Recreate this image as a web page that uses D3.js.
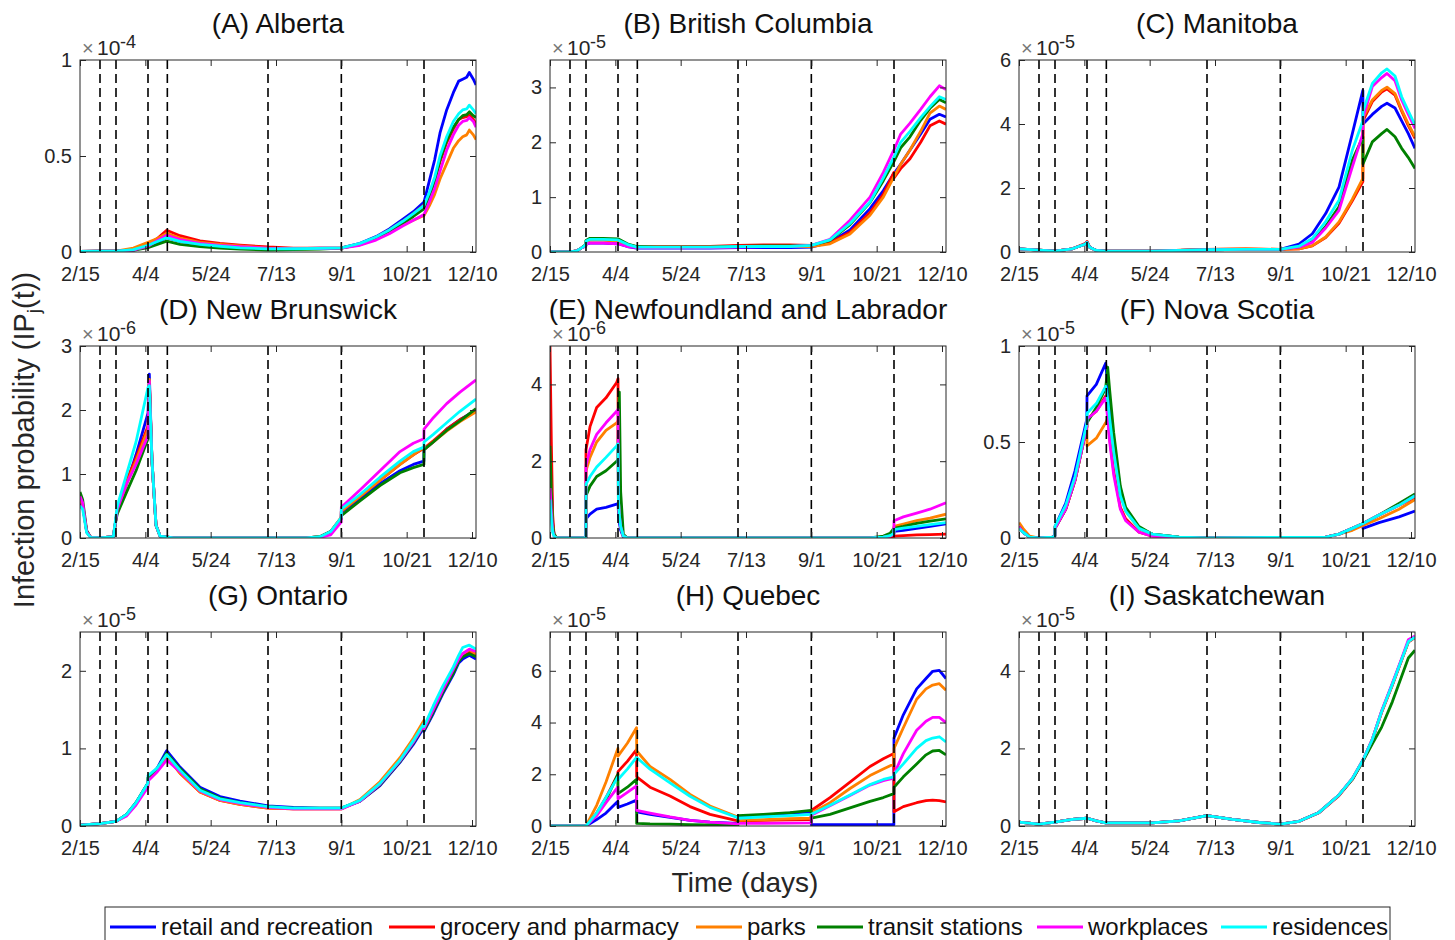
<!DOCTYPE html>
<html><head><meta charset="utf-8">
<script src="https://cdn.jsdelivr.net/npm/d3@7"></script>
<style>
body{margin:0;background:#fff}
svg{display:block;font-family:"Liberation Sans",Arial,Helvetica,sans-serif}
</style>
</head><body>
<svg id="chart" width="1455" height="940"></svg>
<script>
// ---------------- DATA ----------------
const seriesNames = ["retail and recreation","grocery and pharmacy","parks","transit stations","workplaces","residences"];
const seriesColors = ["#0000ff","#ff0000","#ff8000","#008000","#ff00ff","#00ffff"];
const xTickDays = [0,49,98,147,196,245,294];
const xTickLabels = ["2/15","4/4","5/24","7/13","9/1","10/21","12/10"];
const policyDays = [15,27,51,65.5,141,196,258];

const panelTitles = ["(A) Alberta","(B) British Columbia","(C) Manitoba","(D) New Brunswick","(E) Newfoundland and Labrador","(F) Nova Scotia","(G) Ontario","(H) Quebec","(I) Saskatchewan"];
const panelExponents = [-4,-5,-5,-6,-6,-5,-5,-5,-5];
const panelYMax = [1,3.5,6,3,5,1,2.5,7.5,5];
const panelYTicks = [[0,0.5,1],[0,1,2,3],[0,2,4,6],[0,1,2,3],[0,2,4],[0,0.5,1],[0,1,2],[0,2,4,6],[0,2,4]];

// (A) Alberta  x1e-4
const abDays = [0,15,27,40,51,58,65,75,90,105,120,141,160,180,196,210,222,232,242,250,258,262,266,270,275,280,284,287,290,292,295,297];
const abSeries = [
 [0.003,0.004,0.004,0.01,0.03,0.05,0.075,0.055,0.04,0.03,0.025,0.018,0.018,0.02,0.022,0.045,0.08,0.12,0.17,0.21,0.26,0.37,0.48,0.62,0.74,0.83,0.89,0.90,0.91,0.935,0.90,0.87],
 [0.003,0.004,0.004,0.012,0.04,0.07,0.113,0.085,0.058,0.045,0.036,0.026,0.02,0.02,0.022,0.043,0.077,0.115,0.16,0.2,0.245,0.3,0.37,0.47,0.57,0.64,0.69,0.70,0.705,0.715,0.69,0.67],
 [0.003,0.004,0.004,0.02,0.05,0.07,0.097,0.072,0.05,0.04,0.032,0.02,0.018,0.019,0.02,0.038,0.068,0.1,0.14,0.165,0.19,0.24,0.3,0.38,0.46,0.54,0.58,0.60,0.61,0.635,0.61,0.585],
 [0.003,0.004,0.004,0.008,0.023,0.04,0.057,0.04,0.028,0.02,0.015,0.01,0.012,0.015,0.02,0.04,0.072,0.108,0.15,0.185,0.225,0.29,0.37,0.48,0.58,0.65,0.69,0.71,0.715,0.73,0.71,0.70],
 [0.003,0.004,0.004,0.01,0.03,0.06,0.087,0.065,0.045,0.035,0.028,0.02,0.018,0.018,0.02,0.035,0.062,0.095,0.135,0.165,0.195,0.26,0.33,0.42,0.53,0.61,0.66,0.68,0.685,0.70,0.68,0.65],
 [0.003,0.004,0.004,0.012,0.035,0.055,0.075,0.055,0.04,0.03,0.022,0.016,0.017,0.019,0.022,0.045,0.078,0.115,0.16,0.2,0.243,0.31,0.39,0.5,0.6,0.68,0.72,0.74,0.745,0.765,0.74,0.72]
];

// (B) British Columbia  x1e-5
const bcDays = [0,15,20,24,26.9,27,30,40,51,58,65,80,100,120,141,160,180,196,210,225,240,250,257.9,258,263,270,278,285,292,297];
const bcSeries = [
 [0,0,0.02,0.08,0.12,0.15,0.16,0.16,0.15,0.1,0.07,0.07,0.07,0.07,0.08,0.08,0.08,0.09,0.18,0.4,0.79,1.12,1.43,1.43,1.6,1.86,2.15,2.42,2.51,2.46],
 [0,0,0.02,0.08,0.12,0.2,0.22,0.22,0.2,0.13,0.1,0.1,0.1,0.1,0.12,0.13,0.13,0.12,0.17,0.36,0.72,1.05,1.45,1.35,1.52,1.7,2.0,2.3,2.39,2.33],
 [0,0,0.02,0.08,0.12,0.2,0.22,0.22,0.2,0.13,0.09,0.09,0.09,0.09,0.1,0.1,0.1,0.1,0.15,0.33,0.67,1.0,1.37,1.37,1.6,1.86,2.2,2.53,2.66,2.6],
 [0,0,0.02,0.08,0.14,0.21,0.25,0.25,0.24,0.15,0.1,0.09,0.09,0.09,0.1,0.11,0.11,0.12,0.21,0.5,0.9,1.3,1.65,1.65,1.9,2.1,2.4,2.62,2.78,2.72],
 [0,0,0.02,0.08,0.1,0.15,0.16,0.16,0.15,0.1,0.08,0.08,0.08,0.08,0.09,0.1,0.1,0.12,0.23,0.58,1.0,1.45,1.86,1.86,2.15,2.35,2.6,2.83,3.03,2.96],
 [0,0,0.02,0.08,0.13,0.2,0.23,0.23,0.22,0.14,0.09,0.09,0.09,0.09,0.1,0.1,0.1,0.12,0.22,0.52,0.91,1.35,1.73,1.73,2.0,2.2,2.45,2.65,2.83,2.78]
];

// (C) Manitoba  x1e-5
const mbDays = [0,15,27,40,50,51,53,58,65,100,141,170,196,210,220,230,240,250,257.9,258,265,272,276,282,287,292,297];
const mbSeries = [
 [0.1,0.06,0.03,0.1,0.25,0.3,0.15,0.05,0.03,0.03,0.07,0.08,0.08,0.25,0.57,1.2,2.03,3.7,5.05,4.0,4.3,4.55,4.65,4.5,4.1,3.7,3.24],
 [0.1,0.06,0.03,0.1,0.27,0.33,0.15,0.05,0.03,0.03,0.08,0.1,0.08,0.1,0.19,0.45,0.9,1.6,2.2,4.1,4.7,5.0,5.1,4.9,4.4,3.95,3.55],
 [0.1,0.06,0.03,0.1,0.25,0.3,0.15,0.05,0.03,0.03,0.08,0.1,0.08,0.1,0.2,0.47,0.94,1.65,2.3,4.2,4.75,5.05,5.15,4.95,4.44,4.0,3.6],
 [0.1,0.06,0.03,0.1,0.25,0.3,0.15,0.05,0.03,0.03,0.07,0.08,0.08,0.16,0.33,0.8,1.41,2.87,3.6,2.75,3.44,3.7,3.83,3.6,3.24,2.95,2.61],
 [0.1,0.06,0.03,0.1,0.25,0.3,0.15,0.05,0.03,0.03,0.07,0.08,0.08,0.15,0.3,0.75,1.3,2.66,3.7,4.2,5.17,5.45,5.58,5.35,4.75,4.3,3.86],
 [0.1,0.06,0.03,0.1,0.25,0.3,0.15,0.05,0.03,0.03,0.07,0.08,0.08,0.18,0.42,0.95,1.62,3.18,4.1,4.4,5.27,5.6,5.72,5.5,4.85,4.4,3.97]
];

// (D) New Brunswick  x1e-6
const nbDays = [0,2,5,8,15,25,27,28,35,42,51,52,54,57,60,70,141,170,180,188,195.9,196,210,225,240,250,257.9,258,265,275,285,297];
const nbSeries = [
 [0.55,0.5,0.1,0.01,0,0.02,0.3,0.42,0.85,1.3,1.95,2.56,1.2,0.2,0.03,0,0,0,0.02,0.1,0.3,0.4,0.62,0.85,1.05,1.15,1.2,1.38,1.5,1.7,1.85,2.0],
 [0.6,0.52,0.1,0.01,0,0.02,0.3,0.45,0.9,1.25,1.75,2.45,1.2,0.2,0.03,0,0,0,0.02,0.1,0.32,0.42,0.65,0.9,1.15,1.3,1.4,1.4,1.52,1.7,1.85,1.98],
 [0.6,0.52,0.1,0.01,0,0.02,0.3,0.42,0.85,1.2,1.7,2.48,1.2,0.2,0.03,0,0,0,0.02,0.1,0.32,0.42,0.65,0.9,1.15,1.3,1.42,1.38,1.5,1.67,1.82,1.97],
 [0.72,0.6,0.12,0.01,0,0.02,0.28,0.38,0.72,1.05,1.55,2.4,1.2,0.2,0.03,0,0,0,0.02,0.1,0.3,0.35,0.58,0.82,1.02,1.1,1.15,1.38,1.5,1.68,1.83,2.02],
 [0.65,0.55,0.1,0.01,0,0.02,0.3,0.45,0.85,1.15,1.6,2.45,1.2,0.2,0.03,0,0,0,0.01,0.05,0.25,0.48,0.75,1.05,1.35,1.48,1.55,1.7,1.88,2.1,2.28,2.47],
 [0.5,0.45,0.08,0.01,0,0.02,0.35,0.5,1.0,1.5,2.35,2.38,1.2,0.2,0.03,0,0,0,0.02,0.1,0.32,0.45,0.68,0.95,1.2,1.35,1.42,1.5,1.62,1.8,1.98,2.17]
];

// (E) Newfoundland and Labrador  x1e-6
const nlDays = [0,1,2,3,5,26.9,27,30,35,42,50,51,51.3,52,53,55,58,240,250,255,257.9,258,265,275,285,297];
const nlSeries = [
 [2.8,1.4,0.4,0.1,0,0,0.5,0.62,0.75,0.8,0.88,0.9,0.7,0.4,0.2,0.03,0,0,0.02,0.05,0.1,0.17,0.2,0.25,0.3,0.37],
 [5.0,2.5,0.6,0.1,0,0,2.3,2.9,3.4,3.65,4.05,4.15,1.0,0.6,0.3,0.05,0,0,0,0.01,0.02,0.05,0.06,0.08,0.09,0.1],
 [2.0,1.0,0.3,0.1,0,0,1.75,2.1,2.5,2.8,3.0,3.05,1.0,0.6,0.3,0.05,0,0,0.03,0.07,0.12,0.3,0.36,0.45,0.52,0.62],
 [2.4,1.2,0.35,0.1,0,0,1.1,1.35,1.6,1.75,2.0,2.05,3.0,3.8,1.2,0.1,0,0,0.05,0.12,0.25,0.25,0.3,0.38,0.44,0.5],
 [1.3,0.7,0.2,0.05,0,0,1.9,2.3,2.7,3.0,3.3,3.35,1.0,0.6,0.3,0.05,0,0,0.02,0.05,0.1,0.45,0.55,0.65,0.75,0.92],
 [1.0,0.5,0.15,0.05,0,0,1.4,1.6,1.85,2.1,2.4,2.45,1.0,0.6,0.3,0.05,0,0,0.02,0.06,0.12,0.22,0.26,0.3,0.35,0.4]
];

// (F) Nova Scotia  x1e-5
const nsDays = [0,3,8,15,25,26.9,27,35,42,50.9,51,58,65,66.5,68,71,76,80,90,100,120,141,230,240,250,257.9,258,270,285,297];
const nsSeries = [
 [0.06,0.03,0.005,0,0.005,0.01,0.06,0.18,0.35,0.62,0.74,0.8,0.91,0.8,0.7,0.5,0.25,0.15,0.05,0.02,0.005,0,0.005,0.02,0.05,0.07,0.05,0.08,0.11,0.14],
 [0.06,0.03,0.005,0,0.005,0.01,0.05,0.15,0.3,0.58,0.62,0.66,0.74,0.64,0.52,0.35,0.16,0.1,0.03,0.01,0.003,0,0.005,0.02,0.05,0.075,0.075,0.12,0.17,0.21],
 [0.08,0.05,0.01,0,0.005,0.01,0.06,0.15,0.3,0.58,0.48,0.52,0.6,0.62,0.6,0.48,0.24,0.14,0.05,0.02,0.005,0,0.005,0.02,0.04,0.065,0.065,0.1,0.15,0.2],
 [0.06,0.03,0.005,0,0.005,0.01,0.05,0.15,0.3,0.58,0.6,0.68,0.78,0.89,0.77,0.55,0.27,0.16,0.06,0.02,0.005,0,0.005,0.02,0.05,0.075,0.075,0.12,0.18,0.23],
 [0.06,0.03,0.005,0,0.005,0.01,0.05,0.15,0.3,0.58,0.62,0.66,0.73,0.62,0.5,0.33,0.15,0.09,0.03,0.01,0.003,0,0.005,0.02,0.05,0.075,0.075,0.12,0.17,0.22],
 [0.05,0.03,0.005,0,0.005,0.01,0.06,0.17,0.32,0.6,0.65,0.7,0.79,0.72,0.62,0.45,0.22,0.14,0.05,0.02,0.005,0,0.005,0.02,0.05,0.075,0.075,0.12,0.17,0.22]
];

// (G) Ontario  x1e-5
const onDays = [0,15,27,35,42,50.9,51,58,65,75,90,105,120,141,160,180,196,210,225,240,250,257.9,258,265,272,280,284,287,292,297];
const onSeries = [
 [0.01,0.03,0.06,0.15,0.3,0.55,0.6,0.75,0.97,0.76,0.5,0.38,0.32,0.26,0.24,0.23,0.23,0.32,0.52,0.82,1.05,1.27,1.22,1.45,1.7,1.95,2.1,2.15,2.2,2.15],
 [0.01,0.03,0.06,0.14,0.29,0.53,0.62,0.72,0.9,0.68,0.44,0.33,0.28,0.23,0.22,0.22,0.22,0.33,0.56,0.86,1.11,1.34,1.25,1.5,1.75,2.0,2.14,2.2,2.25,2.2],
 [0.01,0.03,0.06,0.14,0.29,0.53,0.62,0.72,0.9,0.68,0.44,0.33,0.28,0.23,0.22,0.22,0.22,0.34,0.57,0.88,1.13,1.36,1.26,1.5,1.76,2.02,2.15,2.22,2.27,2.22],
 [0.01,0.03,0.06,0.15,0.3,0.55,0.62,0.74,0.94,0.74,0.48,0.36,0.3,0.25,0.23,0.23,0.23,0.32,0.53,0.83,1.07,1.29,1.23,1.47,1.72,1.97,2.12,2.18,2.22,2.18],
 [0.01,0.03,0.06,0.13,0.27,0.5,0.58,0.7,0.85,0.7,0.45,0.34,0.29,0.24,0.22,0.22,0.22,0.32,0.54,0.84,1.08,1.3,1.25,1.5,1.75,2.02,2.15,2.22,2.28,2.25],
 [0.01,0.03,0.06,0.15,0.3,0.55,0.65,0.75,0.92,0.72,0.46,0.35,0.3,0.25,0.23,0.23,0.23,0.33,0.55,0.85,1.1,1.32,1.28,1.55,1.8,2.05,2.2,2.3,2.33,2.28]
];

// (H) Quebec  x1e-5
const qcDays = [0,26.9,27,35,42,50.9,51,58,64.9,65,75,90,105,120,140.9,141,160,180,195.9,196,210,225,240,250,257.9,258,265,275,282,287,292,297];
const qcSeries = [
 [0,0,0,0.25,0.5,0.96,0.72,0.85,1.0,0.55,0.45,0.33,0.22,0.15,0.1,0.35,0.42,0.5,0.55,0.05,0.05,0.05,0.05,0.05,0.05,3.4,4.3,5.3,5.7,5.98,6.02,5.7],
 [0,0,0,0.5,1.1,2.0,2.1,2.5,2.95,1.9,1.5,1.16,0.75,0.45,0.2,0.2,0.22,0.24,0.25,0.6,1.1,1.7,2.3,2.6,2.8,0.55,0.75,0.9,0.98,1.0,0.98,0.93],
 [0,0,0,0.8,1.7,3.0,2.7,3.2,3.8,2.9,2.3,1.8,1.22,0.77,0.35,0.22,0.25,0.28,0.3,0.5,0.9,1.45,1.95,2.2,2.4,3.0,3.8,4.9,5.3,5.45,5.5,5.25],
 [0,0,0,0.45,1.0,2.0,1.25,1.5,1.8,0.1,0.08,0.07,0.05,0.04,0.03,0.4,0.45,0.52,0.6,0.3,0.45,0.7,0.95,1.1,1.25,1.5,1.9,2.4,2.75,2.9,2.92,2.75],
 [0,0,0,0.4,0.9,1.5,1.05,1.3,1.55,0.6,0.5,0.35,0.22,0.15,0.08,0.1,0.1,0.11,0.12,0.42,0.78,1.18,1.58,1.75,1.85,2.0,2.8,3.7,4.05,4.2,4.2,4.0],
 [0,0,0,0.5,1.1,1.9,1.8,2.2,2.65,2.65,2.2,1.67,1.15,0.72,0.32,0.3,0.35,0.4,0.45,0.45,0.8,1.2,1.6,1.8,1.9,2.0,2.4,3.0,3.3,3.4,3.45,3.25]
];

// (I) Saskatchewan  x1e-5
const skDays = [0,15,27,40,51,58,65,100,120,141,160,180,196,210,225,240,250,258,265,272,280,287,292,297];
const skSeries = [
 [0.1,0.05,0.1,0.17,0.2,0.13,0.08,0.08,0.13,0.27,0.17,0.09,0.05,0.12,0.35,0.8,1.22,1.7,2.23,2.95,3.65,4.29,4.75,4.87],
 [0.1,0.05,0.1,0.17,0.2,0.13,0.08,0.08,0.13,0.27,0.17,0.09,0.05,0.12,0.34,0.78,1.2,1.68,2.22,2.93,3.63,4.28,4.74,4.86],
 [0.1,0.05,0.1,0.17,0.2,0.13,0.08,0.08,0.13,0.27,0.17,0.09,0.05,0.12,0.35,0.8,1.22,1.7,2.23,2.95,3.65,4.29,4.75,4.87],
 [0.1,0.05,0.1,0.17,0.2,0.13,0.08,0.08,0.13,0.27,0.17,0.09,0.05,0.12,0.35,0.8,1.2,1.67,2.12,2.55,3.2,3.86,4.33,4.53],
 [0.1,0.05,0.1,0.17,0.2,0.13,0.08,0.08,0.13,0.27,0.17,0.09,0.05,0.12,0.35,0.8,1.22,1.7,2.24,2.97,3.68,4.32,4.8,4.9],
 [0.1,0.05,0.1,0.17,0.2,0.13,0.08,0.08,0.13,0.27,0.17,0.09,0.05,0.12,0.35,0.8,1.22,1.7,2.23,2.95,3.65,4.29,4.75,4.87]
];

const panelDays = [abDays,bcDays,mbDays,nbDays,nlDays,nsDays,onDays,qcDays,skDays];
const panelSeries = [abSeries,bcSeries,mbSeries,nbSeries,nlSeries,nsSeries,onSeries,qcSeries,skSeries];

// ---------------- LAYOUT ----------------
const colLefts = [80,550,1019];
const rowTops = [60,346,632];
const rowHeights = [192,192,194];
const panelW = 396;
const xMax = 297;
const legendStarts = [110,389,696,817,1037,1221];
const axisColor = "#262626";
const fontFam = '"Liberation Sans", Arial, Helvetica, sans-serif';

const svg = d3.select("#chart");

panelTitles.forEach((title,i)=>{
  const col = i%3, row = Math.floor(i/3);
  const left = colLefts[col], top = rowTops[row], h = rowHeights[row];
  const x = d3.scaleLinear().domain([0,xMax]).range([left,left+panelW]);
  const y = d3.scaleLinear().domain([0,panelYMax[i]]).range([top+h,top]);
  const g = svg.append("g");

  const clipId = "clip"+i;
  g.append("clipPath").attr("id",clipId).append("rect")
    .attr("x",left).attr("y",top).attr("width",panelW).attr("height",h);

  const days = panelDays[i];
  const line = d3.line().x((d,k)=>x(days[k])).y(d=>y(d));
  const lg = g.append("g").attr("clip-path",`url(#${clipId})`);
  panelSeries[i].forEach((vals,s)=>{
    lg.append("path").datum(vals)
      .attr("d",line)
      .attr("fill","none")
      .attr("stroke",seriesColors[s])
      .attr("stroke-width",2.8)
      .attr("stroke-linejoin","round");
  });

  // policy dashed lines
  g.selectAll(null).data(policyDays).enter().append("line")
    .attr("x1",d=>x(d)).attr("x2",d=>x(d))
    .attr("y1",top).attr("y2",top+h)
    .attr("stroke","#000").attr("stroke-width",1.6)
    .attr("stroke-dasharray","9,5");

  // axes
  const styleAxis = sel => {
    sel.select(".domain").remove();
    sel.selectAll(".tick line").attr("stroke",axisColor).attr("stroke-width",1);
    sel.selectAll("text").attr("fill",axisColor).style("font-size","20px").style("font-family",fontFam);
  };
  g.append("g").attr("transform",`translate(0,${top+h})`)
    .call(d3.axisBottom(x).tickValues(xTickDays).tickFormat((d,k)=>xTickLabels[k]).tickSizeInner(-6).tickSizeOuter(0).tickPadding(15))
    .call(styleAxis);
  g.append("g").attr("transform",`translate(0,${top})`)
    .call(d3.axisTop(x).tickValues(xTickDays).tickFormat(()=>"").tickSizeInner(-6).tickSizeOuter(0))
    .call(styleAxis);
  g.append("g").attr("transform",`translate(${left},0)`)
    .call(d3.axisLeft(y).tickValues(panelYTicks[i]).tickFormat(d=>String(d)).tickSizeInner(-6).tickSizeOuter(0).tickPadding(8))
    .call(styleAxis);
  g.append("g").attr("transform",`translate(${left+panelW},0)`)
    .call(d3.axisRight(y).tickValues(panelYTicks[i]).tickFormat(()=>"").tickSizeInner(-6).tickSizeOuter(0))
    .call(styleAxis);

  g.append("rect").attr("x",left).attr("y",top).attr("width",panelW).attr("height",h)
    .attr("fill","none").attr("stroke",axisColor).attr("stroke-width",1);

  // exponent label
  const ex = g.append("text").attr("y",top-5).attr("fill",axisColor).style("font-family",fontFam);
  ex.append("tspan").attr("x",left+2).style("font-size","20px").attr("fill","#777").text("×");
  ex.append("tspan").attr("x",left+17).style("font-size","21px").text("10");
  ex.append("tspan").attr("x",left+40).attr("dy",-7).style("font-size","18px").text(String(panelExponents[i]));

  // title
  g.append("text").attr("x",left+panelW/2).attr("y",top-27)
    .attr("text-anchor","middle").attr("fill","#111")
    .style("font-size","28px").style("font-family",fontFam).text(title);
});

// axis labels
svg.append("text").attr("x",745).attr("y",892).attr("text-anchor","middle")
  .attr("fill",axisColor).style("font-size","28px").style("font-family",fontFam).text("Time (days)");
const yl = svg.append("text").attr("transform","translate(34,440) rotate(-90)")
  .attr("text-anchor","middle").attr("fill",axisColor).style("font-size","29px").style("font-family",fontFam);
yl.append("tspan").text("Infection probability (IP");
yl.append("tspan").attr("dy",6).style("font-size","19px").text("j");
yl.append("tspan").attr("dy",-6).text("(t))");

// legend
const legendG = svg.append("g");
legendG.append("rect").attr("x",105).attr("y",907).attr("width",1285).attr("height",50)
  .attr("fill","#fff").attr("stroke",axisColor).attr("stroke-width",1);
seriesNames.forEach((name,s)=>{
  const lx = legendStarts[s];
  legendG.append("line").attr("x1",lx).attr("x2",lx+46).attr("y1",927).attr("y2",927)
    .attr("stroke",seriesColors[s]).attr("stroke-width",2.8);
  legendG.append("text").attr("x",lx+51).attr("y",935)
    .attr("fill","#111").style("font-size","24px").style("font-family",fontFam).text(name);
});
</script>
</body></html>
